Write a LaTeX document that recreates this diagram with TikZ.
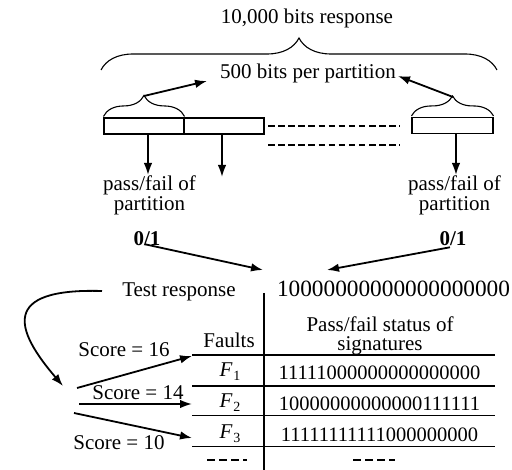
\documentclass[tikz,border=0pt]{standalone}
\usepackage{fontspec}
\setmainfont{Liberation Serif}
\usetikzlibrary{arrows.meta,decorations.pathreplacing}
\begin{document}
\begin{tikzpicture}[x=1pt,y=-1pt,
  txt/.style={inner sep=1pt,font=\fontsize{21}{20}\selectfont,align=center},
  bin/.style={inner sep=1pt,font=\fontsize{20.5}{20}\selectfont},
  pbox/.style={draw,line width=1.1pt,minimum height=16pt,inner sep=0pt},
  arr/.style={line width=1.8pt,-{Latex[length=12pt,width=8.5pt]}},
  brc/.style={line width=1.1pt,decorate},
  dsh/.style={line width=1.6pt,dash pattern=on 6.5pt off 3.6pt},
  rule/.style={line width=1.3pt}]
\useasboundingbox (0,0) rectangle (512,470);
% top
\node[txt] (t10k) at (307,18) {10,000 bits response};
\draw[brc,decoration={brace,amplitude=32pt}] (101,70) -- (497,70);
\node[txt] (p500) at (308,73) {500 bits per partition};
% boxes
\node[pbox,minimum width=80pt] (b1) at (144,126) {};
\node[pbox,minimum width=80pt] (b2) at (224,126) {};
\node[pbox,minimum width=81pt] (b3) at (452.5,125.5) {};
\draw[brc,decoration={brace,amplitude=21pt,raise=1pt}] (b1.north west) -- (b1.north east);
\draw[brc,decoration={brace,amplitude=20pt,raise=1pt}] (b3.north west) -- (b3.north east);
\coordinate (bt1) at (144,96);
\coordinate (bt2) at (453,97);
\draw[arr] (bt1) -- ([xshift=-12pt,yshift=-8pt]p500.west);
\draw[arr] (bt2) -- ([xshift=1pt,yshift=-3pt]p500.east);
% dashed lines
\draw[dsh] (268,126) -- (400,126);
\draw[dsh] (268,145) -- (400,145);
% pass/fail
\node[txt] (pf1) at (149.5,195) {pass/fail of\\partition};
\node[txt] (pf2) at (454.5,195) {pass/fail of\\partition};
\coordinate (d1) at (148,175);
\coordinate (d2) at (222,177);
\coordinate (d3) at (456,175);
\draw[arr] ([xshift=4pt]b1.south) -- (d1);
\draw[arr] ([xshift=-2pt]b2.south) -- (d2);
\draw[arr] ([xshift=3.5pt]b3.south) -- (d3);
\node[txt,font=\fontsize{21}{20}\selectfont\bfseries] (z1) at (147,239) {0/1};
\node[txt,font=\fontsize{21}{20}\selectfont\bfseries] (z2) at (453,239) {0/1};
\coordinate (h1) at (263,270);
\coordinate (h2) at (327,270);
\draw[arr] ([xshift=-2pt,yshift=3pt]z1.south) -- (h1);
\draw[arr] ([xshift=-3pt]z2.south) -- (h2);
% test response
\node[txt] (tr) at (179,292) {Test response};
\node[inner sep=1pt,font=\fontsize{23.3}{24}\selectfont] (bb) at (393.5,289) {10000000000000000000};
\coordinate (c0) at (102,291);
\coordinate (c1) at (63,386);
\draw[arr] (c0) .. controls (0,288) and (15,330) .. (c1);
% table
\draw[line width=1.1pt] (264,293) -- (264,470);
\draw[rule] (192,355) -- (495,355);
\draw[rule] (192,386) -- (495,386);
\draw[line width=1pt] (192,416) -- (495,416);
\draw[line width=1pt] (192,447) -- (495,447);
\node[txt] (flt) at (229,340) {Faults};
\node[txt,font=\fontsize{21}{19}\selectfont] (hdr) at (380,335.5) {Pass/fail status of\\signatures};
\node[txt] (f1) at (230,372) {\itshape F\kern1pt\raisebox{-4pt}{\upshape\fontsize{14}{14}\selectfont 1}};
\node[txt] (f2) at (230,403) {\itshape F\kern1pt\raisebox{-4pt}{\upshape\fontsize{14}{14}\selectfont 2}};
\node[txt] (f3) at (230,434) {\itshape F\kern1pt\raisebox{-4pt}{\upshape\fontsize{14}{14}\selectfont 3}};
\node[bin] (r1) at (379.5,373) {11111000000000000000};
\node[bin] (r2) at (379.5,404) {10000000000000111111};
\node[bin] (r3) at (379.5,435) {11111111111000000000};
\draw[line width=1.6pt,dash pattern=on 8pt off 4pt] (207,460) -- (247,460);
\draw[line width=1.6pt,dash pattern=on 8pt off 4pt] (353,460) -- (395,460);
% scores
\node[txt] (s16) at (124,350) {Score = 16};
\node[txt] (s14) at (138,393) {Score = 14};
\node[txt] (s10) at (119,443) {Score = 10};
\coordinate (a1) at (77,388);
\coordinate (a2) at (79,404);
\coordinate (a3) at (74,413);
\coordinate (e1) at (192,356);
\coordinate (e2) at (192,404);
\coordinate (e3) at (192,438);
\draw[arr] (a1) -- (e1);
\draw[arr] (a2) -- (e2);
\draw[arr] (a3) -- (e3);
\end{tikzpicture}
\end{document}
